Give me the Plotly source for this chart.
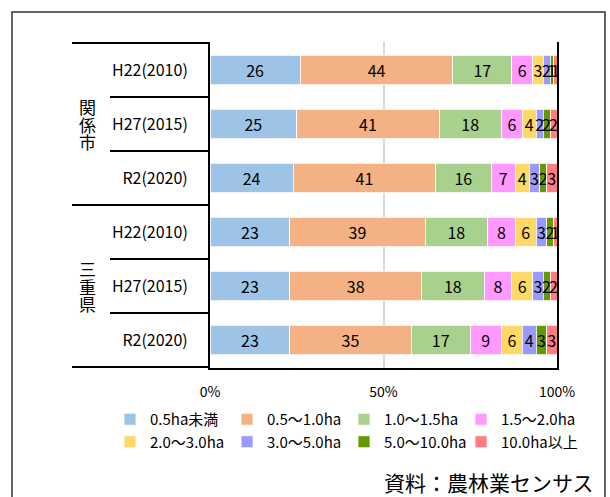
import plotly.graph_objects as go

# Farm size distribution (share of farms, %) by region and census year
regions = ["関係市", "関係市", "関係市", "三重県", "三重県", "三重県"]
years = ["H22(2010)", "H27(2015)", "R2(2020)", "H22(2010)", "H27(2015)", "R2(2020)"]
row_keys = [f"{r} {y}" for r, y in zip(regions, years)]

classes = ["0.5ha未満", "0.5～1.0ha", "1.0～1.5ha", "1.5～2.0ha",
           "2.0～3.0ha", "3.0～5.0ha", "5.0～10.0ha", "10.0ha以上"]

share_lt05 = [26, 25, 24, 23, 23, 23]
share_05_10 = [44, 41, 41, 39, 38, 35]
share_10_15 = [17, 18, 16, 18, 18, 17]
share_15_20 = [6, 6, 7, 8, 8, 9]
share_20_30 = [3, 4, 4, 6, 6, 6]
share_30_50 = [2, 2, 3, 3, 3, 4]
share_50_100 = [1, 2, 2, 2, 2, 3]
share_ge100 = [1, 2, 3, 1, 2, 3]

x_tick_vals = [0, 50, 100]
x_tick_text = ["0%", "50%", "100%"]
source_note = "資料：農林業センサス"

series = [share_lt05, share_05_10, share_10_15, share_15_20,
          share_20_30, share_30_50, share_50_100, share_ge100]
colors = ["#9DC3E6", "#F4B183", "#A9D18E", "#FF99FF",
          "#FFD966", "#9999FF", "#669900", "#FF7C80"]

FONT = "Noto Sans CJK JP"

fig = go.Figure()
for name, vals, col in zip(classes, series, colors):
    fig.add_trace(go.Bar(
        y=row_keys, x=vals, name=name, orientation="h",
        marker=dict(color=col, line=dict(color="white", width=0.8)),
        text=vals, texttemplate="%{text}",
        textposition="inside", insidetextanchor="middle", textangle=0,
        insidetextfont=dict(color="black", size=16, family=FONT),
        hoverinfo="skip",
    ))

# plot area geometry in pixels (used to place paper-referenced decorations)
L, R, T, B = 210, 53, 42, 129
W, H = 610 - L - R, 497 - T - B


def px_x(px):
    return (px - L) / W


def px_y(py):
    return (497 - B - py) / H


fig.update_layout(
    barmode="stack",
    bargap=0.45,
    width=610, height=497,
    margin=dict(l=L, r=R, t=T, b=B),
    paper_bgcolor="white", plot_bgcolor="white",
    font=dict(family=FONT, color="black"),
    uniformtext=dict(minsize=16, mode="show"),
    showlegend=True,
    legend=dict(
        orientation="h", x=px_x(110), y=px_y(403), xanchor="left", yanchor="top",
        entrywidth=72, entrywidthmode="pixels",
        font=dict(size=15, family=FONT), itemwidth=30,
        traceorder="normal", tracegroupgap=0,
    ),
)

fig.update_xaxes(
    range=[0, 100], tickvals=x_tick_vals, ticktext=x_tick_text,
    showgrid=True, gridcolor="#D9D9D9", gridwidth=1.5,
    zeroline=False, showline=True, linecolor="black", linewidth=2,
    ticks="", ticklabelstandoff=10,
    tickfont=dict(size=14, family=FONT),
)

fig.update_yaxes(
    type="category", autorange="reversed",
    tickmode="array", tickvals=row_keys, ticktext=years,
    tickson="boundaries", ticks="outside", ticklen=98, tickwidth=1.5, tickcolor="black",
    ticklabelstandoff=17,
    showline=True, mirror=True, linecolor="black", linewidth=2,
    showgrid=False, zeroline=False,
    tickfont=dict(size=16, family=FONT),
)

# region group dividers
for b in (-0.5, 2.5, 5.5):
    fig.add_shape(type="line", xref="paper", yref="y",
                  x0=px_x(72), x1=0, y0=b, y1=b,
                  line=dict(color="black", width=2))

# region names written vertically, one character per line
for idx, reg in ((1, regions[0]), (4, regions[3])):
    n = len(reg)
    for k, ch in enumerate(reg):
        fig.add_annotation(xref="paper", yref="y", x=px_x(87),
                           y=idx + (k - (n - 1) / 2) * 18 / (H / 6),
                           text=ch, showarrow=False,
                           font=dict(size=17, family=FONT),
                           xanchor="center", yanchor="middle")

# source note
fig.add_annotation(xref="paper", yref="paper", x=px_x(596), y=px_y(482),
                   text=source_note, showarrow=False, xanchor="right", yanchor="middle",
                   font=dict(size=21, family=FONT))

# outer frame around the chart
fig.add_shape(type="rect", xref="paper", yref="paper",
              x0=px_x(12), x1=px_x(605), y0=px_y(520), y1=px_y(12),
              line=dict(color="#333333", width=1.5), fillcolor="rgba(0,0,0,0)",
              layer="below")

fig.write_html("out.html")
